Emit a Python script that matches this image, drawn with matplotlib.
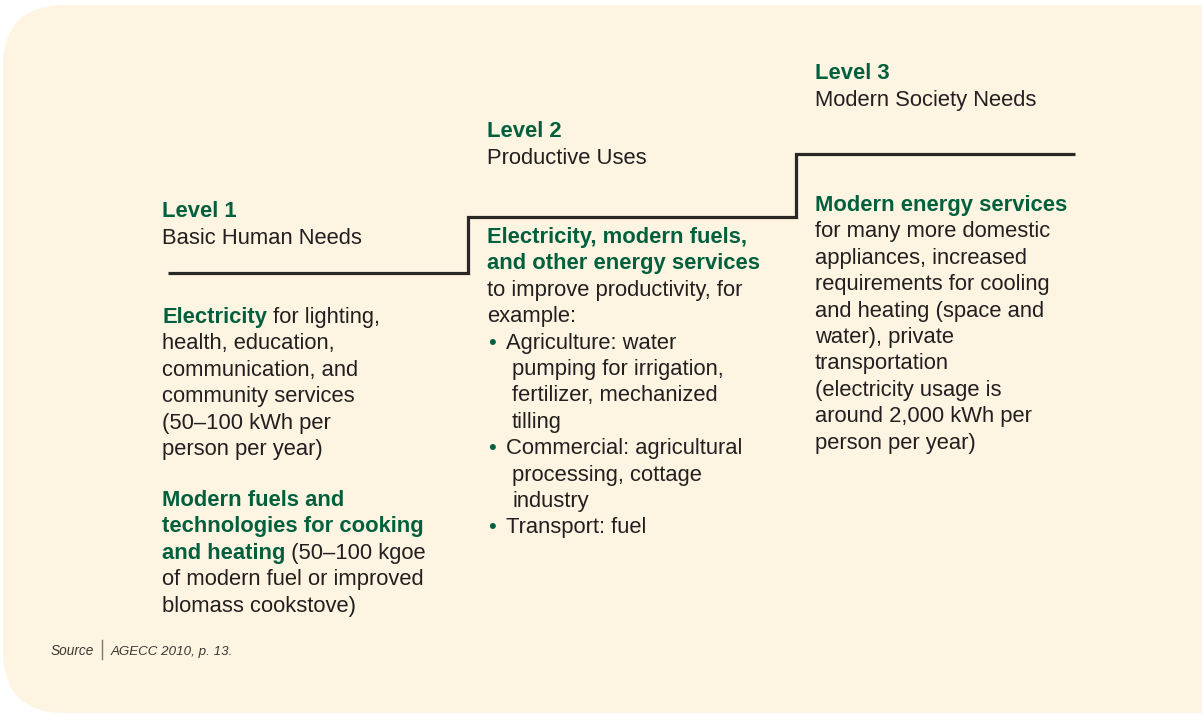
import matplotlib
matplotlib.use("Agg")
import matplotlib.pyplot as plt
from matplotlib.patches import FancyBboxPatch

# step line: level edges (x) and heights (y, in picture px, top = 0)
step_edges = [168, 468, 796, 1075]
step_heights = [273, 217, 154]

level_titles = ["Level 1", "Level 2", "Level 3"]
level_subtitles = ["Basic Human Needs", "Productive Uses", "Modern Society Needs"]

# each line is a list of (text, bold) runs
col1_block1 = [
    [("Electricity", True), (" for lighting,", False)],
    [("health, education,", False)],
    [("communication, and", False)],
    [("community services", False)],
    [("(50\u2013100 kWh per", False)],
    [("person per year)", False)],
]
col1_block2 = [
    [("Modern fuels and", True)],
    [("technologies for cooking", True)],
    [("and heating", True), (" (50\u2013100 kgoe", False)],
    [("of modern fuel or improved", False)],
    [("blomass cookstove)", False)],
]
col2_intro = [
    [("Electricity, modern fuels,", True)],
    [("and other energy services", True)],
    [("to improve productivity, for", False)],
    [("example:", False)],
]
col2_bullets = [
    ["Agriculture: water", "pumping for irrigation,", "fertilizer, mechanized", "tilling"],
    ["Commercial: agricultural", "processing, cottage", "industry"],
    ["Transport: fuel"],
]
col3_block = [
    [("Modern energy services", True)],
    [("for many more domestic", False)],
    [("appliances, increased", False)],
    [("requirements for cooling", False)],
    [("and heating (space and", False)],
    [("water), private", False)],
    [("transportation", False)],
    [("(electricity usage is", False)],
    [("around 2,000 kWh per", False)],
    [("person per year)", False)],
]
source_label = "Source"
source_text = "AGECC 2010, p. 13."

GREEN = "#00603e"
DARK = "#231f20"
BG = "#fef4e2"
FS = 15.8
LH = 26.4
FONT = ["Liberation Sans", "DejaVu Sans"]

fig = plt.figure(figsize=(12.02, 7.15), dpi=100)
ax = fig.add_axes([0, 0, 1, 1])
ax.set_xlim(0, 1202)
ax.set_ylim(715, 0)
ax.axis("off")

bg = FancyBboxPatch((3, 5), 1300, 708, boxstyle="round,pad=0,rounding_size=62",
                    fc=BG, ec="none")
ax.add_patch(bg)

st = ax.stairs(step_heights, step_edges, baseline=None, color="#2b2724", lw=2.3)
st.set_joinstyle("miter")

renderer = fig.canvas.get_renderer()


def put_line(x, y, runs):
    for txt, bold in runs:
        t = ax.text(x, y, txt, fontsize=FS, family=FONT, va="baseline",
                    fontweight="bold" if bold else "normal",
                    color=GREEN if bold else DARK)
        x = ax.transData.inverted().transform(
            (t.get_window_extent(renderer).x1, 0))[0]


def put_block(x, y0, lines):
    for i, runs in enumerate(lines):
        put_line(x, y0 + i * LH, runs)


# level headings
head_x = [162, 487, 815]
head_y = [217, 137, 79]
for hx, hy, ttl, sub in zip(head_x, head_y, level_titles, level_subtitles):
    ax.text(hx, hy, ttl, fontsize=FS, family=FONT, fontweight="bold",
            color=GREEN, va="baseline")
    ax.text(hx, hy + 27, sub, fontsize=FS, family=FONT, color=DARK, va="baseline")

put_block(162, 323, col1_block1)
put_block(162, 506, col1_block2)
put_block(487, 243, col2_intro)

y = 243 + 4 * LH
for item in col2_bullets:
    ax.text(488, y, "\u2022", fontsize=FS, family=FONT, color=GREEN, va="baseline")
    for j, line in enumerate(item):
        ax.text(506 if j == 0 else 512, y, line, fontsize=FS, family=FONT,
                color=DARK, va="baseline")
        y += LH

put_block(815, 211, col3_block)

# source note
ax.text(51, 655, source_label, fontsize=9.8, family=FONT, style="italic",
        color="#3a3532", va="baseline")
ax.plot([102, 102], [640, 659], color="#777777", lw=1)
ax.text(111, 655, source_text, fontsize=9.6, family=FONT, style="italic",
        color="#3a3532", va="baseline")

fig.savefig("out.png", dpi=100, facecolor="white")
